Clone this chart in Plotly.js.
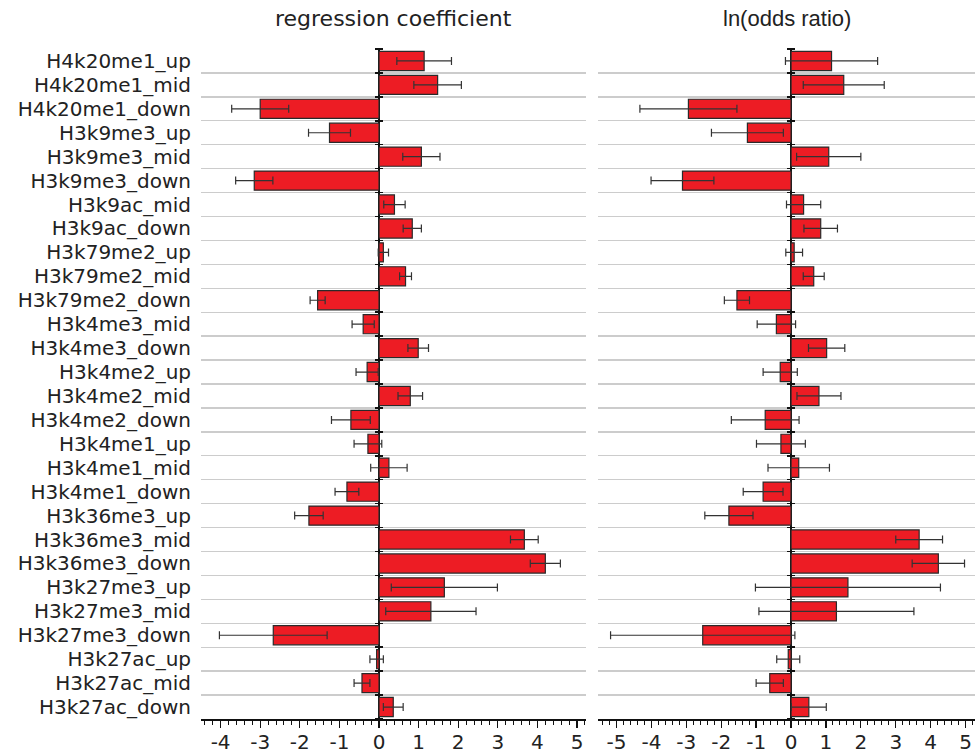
<!DOCTYPE html>
<html>
<head>
<meta charset="utf-8">
<script src="https://cdn.plot.ly/plotly-3.0.1.min.js"></script>
<style>html,body{margin:0;padding:0;background:#fff;}#chart{width:975px;height:753px;}</style>
</head>
<body>
<div id="chart"></div>
<script>
// Categories (top to bottom)
const categories = [
  "H4k20me1_up","H4k20me1_mid","H4k20me1_down",
  "H3k9me3_up","H3k9me3_mid","H3k9me3_down",
  "H3k9ac_mid","H3k9ac_down",
  "H3k79me2_up","H3k79me2_mid","H3k79me2_down",
  "H3k4me3_mid","H3k4me3_down",
  "H3k4me2_up","H3k4me2_mid","H3k4me2_down",
  "H3k4me1_up","H3k4me1_mid","H3k4me1_down",
  "H3k36me3_up","H3k36me3_mid","H3k36me3_down",
  "H3k27me3_up","H3k27me3_mid","H3k27me3_down",
  "H3k27ac_up","H3k27ac_mid","H3k27ac_down"
];

// Left panel: regression coefficient
const regCoef = [1.14,1.48,-3.00,-1.25,1.07,-3.15,0.39,0.84,0.11,0.67,-1.55,-0.40,0.99,-0.30,0.79,-0.71,-0.28,0.25,-0.81,-1.77,3.67,4.20,1.65,1.31,-2.67,-0.06,-0.43,0.36];
const regErr  = [0.69,0.60,0.72,0.53,0.47,0.47,0.27,0.23,0.13,0.15,0.19,0.28,0.26,0.28,0.31,0.49,0.35,0.46,0.30,0.36,0.35,0.38,1.34,1.14,1.36,0.17,0.20,0.25];

// Right panel: ln(odds ratio)
const lnOR    = [1.16,1.51,-2.94,-1.25,1.08,-3.11,0.36,0.85,0.09,0.65,-1.55,-0.42,1.02,-0.31,0.80,-0.74,-0.29,0.22,-0.80,-1.78,3.67,4.22,1.63,1.30,-2.53,-0.08,-0.61,0.51];
const lnORErr = [1.32,1.16,1.39,1.03,0.92,0.90,0.49,0.48,0.24,0.30,0.36,0.55,0.52,0.49,0.63,0.97,0.70,0.88,0.57,0.69,0.67,0.75,2.65,2.22,2.64,0.33,0.39,0.50];

const panelTitles = ["regression coefficient","ln(odds ratio)"];
const xTicks = [-5,-4,-3,-2,-1,0,1,2,3,4,5];
const xTickText = ["-5","-4","-3","-2","-1","0","1","2","3","4","5"];

const W = 975, H = 753;
const margin = {l:201, r:0, t:49, b:34};
const plotW = W - margin.l - margin.r;
const dom1 = [0, (586-201)/plotW];
const dom2 = [(598-201)/plotW, 1];
const range1 = [-4.495, 5.227];
const range2 = [-5.53, 5.27];
const yRange = [categories.length - 0.5, -0.5];

const barColor = "#ED1C24";
const font = "DejaVu Sans, Verdana, sans-serif";

function barTrace(vals, errs, xa) {
  return {
    type: "bar", orientation: "h",
    x: vals, y: categories,
    xaxis: xa, yaxis: "y",
    marker: {color: barColor, line: {color: "#2a2a2a", width: 1.2}},
    error_x: {type: "data", array: errs, visible: true, color: "#333333", thickness: 1.2, width: 4},
    hoverinfo: "x+y", showlegend: false
  };
}
// empty helper traces so the zero-line tick axes get drawn
function holder(xa, ya) {
  return {type: "scatter", mode: "markers", x: [null], y: [null], xaxis: xa, yaxis: ya, showlegend: false, hoverinfo: "skip"};
}

// paper fraction of x=0 inside each panel
function zeroPos(dom, rng, shiftPx) {
  const f = (0 - rng[0]) / (rng[1] - rng[0]);
  return dom[0] + f * (dom[1] - dom[0]) + shiftPx / plotW;
}

const xAxisBase = {
  tickmode: "array", tickvals: xTicks, ticktext: xTickText,
  ticks: "outside", ticklen: 7, tickwidth: 1.3, tickcolor: "#111",
  minor: {dtick: 0.2, tick0: 0, ticks: "outside", ticklen: 4, tickwidth: 1, tickcolor: "#111", showgrid: false},
  showline: true, linecolor: "#111", linewidth: 1.5,
  showgrid: false,
  zeroline: true, zerolinecolor: "#111", zerolinewidth: 2,
  tickfont: {family: font, size: 20, color: "#222"},
  ticklabelstandoff: -3,
  fixedrange: true
};

const tickAxisBase = {
  overlaying: "y", anchor: "free", type: "linear",
  range: yRange, autorange: false, tickmode: "linear", tick0: 0.5, dtick: 1,
  ticks: "outside", ticklen: 8, tickwidth: 1.5, tickcolor: "#111",
  showticklabels: false, showgrid: false, showline: false, zeroline: false,
  side: "left", fixedrange: true
};

const layout = {
  width: W, height: H,
  margin: margin,
  paper_bgcolor: "#ffffff", plot_bgcolor: "#ffffff",
  bargap: 0.2,
  showlegend: false,
  xaxis: Object.assign({}, xAxisBase, {domain: dom1, range: range1, anchor: "y"}),
  xaxis2: Object.assign({}, xAxisBase, {domain: dom2, range: range2, anchor: "y"}),
  yaxis: {
    type: "category", categoryorder: "array", categoryarray: categories,
    range: yRange, tickmode: "linear", tick0: 0, dtick: 1,
    tickson: "boundaries", ticks: "",
    showgrid: true, gridcolor: "#cccccc", gridwidth: 1.3,
    showline: false, zeroline: false,
    tickfont: {family: font, size: 20, color: "#222"},
    ticklabelstandoff: 9,
    fixedrange: true
  },
  yaxis3: Object.assign({}, tickAxisBase, {position: zeroPos(dom1, range1, 4)}),
  yaxis4: Object.assign({}, tickAxisBase, {position: zeroPos(dom2, range2, 4)}),
  annotations: [
    {text: panelTitles[0], xref: "x domain", yref: "paper", x: 0.5, y: 1, xanchor: "center", yanchor: "middle", yshift: 31, showarrow: false, font: {family: font, size: 22, color: "#222"}},
    {text: panelTitles[1], xref: "x2 domain", yref: "paper", x: 0.5, y: 1, xanchor: "center", yanchor: "middle", yshift: 31, showarrow: false, font: {family: "Liberation Sans, Arial, sans-serif", size: 22, color: "#222"}}
  ]
};

Plotly.newPlot("chart", [
  barTrace(regCoef, regErr, "x"),
  barTrace(lnOR, lnORErr, "x2"),
  holder("x", "y3"),
  holder("x2", "y4")
], layout, {displayModeBar: false, staticPlot: true});
</script>
</body>
</html>
